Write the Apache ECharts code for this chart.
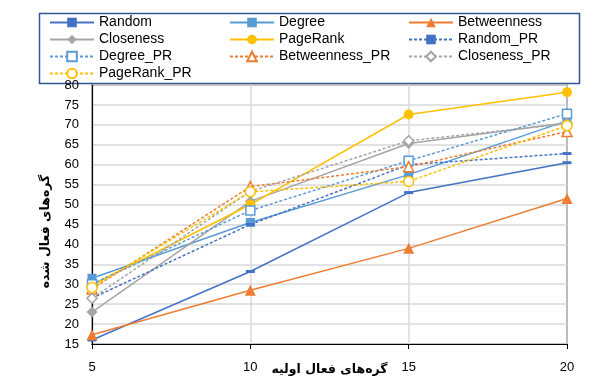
<!DOCTYPE html>
<html>
<head>
<meta charset="utf-8">
<script src="https://cdn.jsdelivr.net/npm/echarts@6/dist/echarts.min.js"></script>
<style>
  html, body { margin: 0; padding: 0; background: #fff; }
  #chart { width: 608px; height: 383px; }
</style>
</head>
<body>
<div id="chart"></div>
<script>
// Number of initially active nodes (x) vs. number of activated nodes (y)
const seeds = ['5', '10', '15', '20'];

const random        = [16, 33.2, 53, 60.5];
const degree        = [31.5, 45.5, 57.5, 71];
const betweenness   = [17.3, 28.5, 39, 51.5];
const closeness     = [23, 50.8, 65.3, 70.5];
const pageRank      = [29.8, 50, 72.6, 78.2];
const randomPR      = [26.5, 45, 60, 62.8];
const degreePR      = [30, 48.5, 61, 72.8];
const betweennessPR = [28.8, 54.5, 59.5, 68.3];
const closenessPR   = [26.5, 53.3, 66, 70.3];
const pageRankPR    = [29.2, 53.2, 55.8, 69.8];

const yTicks = { min: 15, max: 80, step: 5 };

const C = {
  blue: '#4472C4',
  lightBlue: '#5B9BD5',
  orange: '#ED7D31',
  gray: '#A5A5A5',
  gold: '#FFC000'
};

const FONT = '"Liberation Sans", Arial, "DejaVu Sans", sans-serif';
const dashPath = 'path://M0,0 L10,0 L10,3 L0,3 Z';

function solid(name, data, color, symbol, size) {
  return {
    name, type: 'line', data,
    symbol, symbolSize: size, showSymbol: true,
    lineStyle: { color, width: 1.5 },
    itemStyle: { color, borderColor: color, borderWidth: 0 },
    emphasis: { disabled: true },
    animation: false
  };
}
function dashed(name, data, color, symbol, size, hollow) {
  return {
    name, type: 'line', data,
    symbol, symbolSize: size, showSymbol: true,
    lineStyle: { color, width: 1.5, type: [3, 2] },
    itemStyle: hollow
      ? { color: '#fff', borderColor: color, borderWidth: 1.5 }
      : { color, borderColor: color, borderWidth: 0 },
    emphasis: { disabled: true },
    animation: false
  };
}

const series = [
  solid('Random', random, C.blue, dashPath, [9, 3]),
  solid('Degree', degree, C.lightBlue, 'rect', 9),
  solid('Betweenness', betweenness, C.orange, 'triangle', 11),
  solid('Closeness', closeness, C.gray, 'diamond', 11),
  solid('PageRank', pageRank, C.gold, 'circle', 10),
  dashed('Random_PR', randomPR, C.blue, dashPath, [9, 3], false),
  dashed('Degree_PR', degreePR, C.lightBlue, 'rect', 9, true),
  dashed('Betweenness_PR', betweennessPR, C.orange, 'triangle', 10, true),
  dashed('Closeness_PR', closenessPR, C.gray, 'diamond', 10, true),
  dashed('PageRank_PR', pageRankPR, C.gold, 'circle', 10, true)
];

function legendCol(left, names) {
  return {
    orient: 'vertical', left, top: 14, padding: 0,
    itemWidth: 44, itemHeight: 12, itemGap: 0,
    selectedMode: false,
    data: names,
    textStyle: { fontFamily: FONT, fontSize: 14, color: '#000', lineHeight: 17 }
  };
}

const chart = echarts.init(document.getElementById('chart'), null, { renderer: 'canvas' });
chart.setOption({
  backgroundColor: '#fff',
  animation: false,
  grid: {
    left: 92, right: 41, top: 85, bottom: 39,
    outerBoundsMode: 'none',
    containLabel: false,
    show: true, borderColor: '#000', borderWidth: 1.2, backgroundColor: 'transparent'
  },
  legend: [
    legendCol(49, ['Random', 'Closeness', 'Degree_PR', 'PageRank_PR']),
    legendCol(229, ['Degree', 'PageRank', 'Betweenness_PR']),
    legendCol(408, ['Betweenness', 'Random_PR', 'Closeness_PR'])
  ],
  graphic: [{
    type: 'rect', left: 37, top: 11, z: -1,
    shape: { width: 540, height: 70 },
    style: { fill: 'none', stroke: '#2F5597', lineWidth: 1.5 }
  }],
  xAxis: {
    type: 'category', data: seeds, boundaryGap: false,
    axisLine: { lineStyle: { color: '#000', width: 1.2 } },
    axisTick: { show: true, length: 5, lineStyle: { color: '#000' } },
    axisLabel: { margin: 17, fontFamily: FONT, fontSize: 13, color: '#000' },
    splitLine: { show: true, lineStyle: { color: '#D9D9D9', width: 1.5 } },
    name: 'گره\u200cهای فعال اولیه',
    nameLocation: 'middle', nameGap: 19, nameMoveOverlap: false,
    nameTextStyle: { fontFamily: '"DejaVu Sans", sans-serif', fontWeight: 'bold', fontSize: 12.5, color: '#000' }
  },
  yAxis: {
    type: 'value', min: yTicks.min, max: yTicks.max, interval: yTicks.step,
    axisLine: { show: true, lineStyle: { color: '#000', width: 1.2 } },
    axisTick: { show: false },
    axisLabel: { margin: 13, fontFamily: FONT, fontSize: 13, color: '#000' },
    splitLine: { show: true, lineStyle: { color: '#D9D9D9', width: 1.5 } },
    name: 'گره\u200cهای فعال شده',
    nameLocation: 'middle', nameGap: 40, nameRotate: 90, nameMoveOverlap: false,
    nameTextStyle: { fontFamily: '"DejaVu Sans", sans-serif', fontWeight: 'bold', fontSize: 12.5, color: '#000', padding: [0, 34, 0, 0] }
  },
  series
});
</script>
</body>
</html>
